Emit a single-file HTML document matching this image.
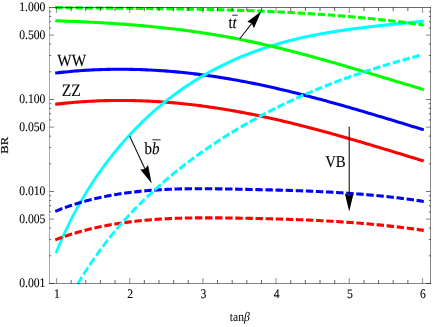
<!DOCTYPE html>
<html><head><meta charset="utf-8"><title>BR vs tan beta</title>
<style>html,body{margin:0;padding:0;background:#fff;}svg{display:block;will-change:transform;text-rendering:geometricPrecision;font-family:"Liberation Serif",serif;}</style></head><body>
<svg width="436" height="327" viewBox="0 0 436 327">
<rect width="436" height="327" fill="#fff"/>
<g transform="scale(1,1.19)">
<clipPath id="cp"><rect x="47.9" y="4.96" width="384.2" height="234.62"/></clipPath>
<g clip-path="url(#cp)" fill="none" stroke-linejoin="round" stroke-linecap="square">
<path d="M56.50,87.50 L58.80,87.28 L61.10,87.06 L63.41,86.85 L65.71,86.66 L68.01,86.47 L70.31,86.29 L72.61,86.12 L74.92,85.95 L77.22,85.80 L79.52,85.65 L81.82,85.51 L84.12,85.38 L86.42,85.26 L88.73,85.15 L91.03,85.04 L93.33,84.95 L95.63,84.86 L97.93,84.78 L100.24,84.70 L102.54,84.64 L104.84,84.58 L107.14,84.53 L109.44,84.49 L111.75,84.46 L114.05,84.43 L116.35,84.42 L118.65,84.41 L120.95,84.41 L123.25,84.41 L125.56,84.43 L127.86,84.45 L130.16,84.48 L132.46,84.51 L134.76,84.56 L137.07,84.61 L139.37,84.67 L141.67,84.74 L143.97,84.81 L146.27,84.89 L148.58,84.98 L150.88,85.08 L153.18,85.18 L155.48,85.30 L157.78,85.41 L160.08,85.54 L162.39,85.67 L164.69,85.81 L166.99,85.96 L169.29,86.11 L171.59,86.27 L173.90,86.44 L176.20,86.62 L178.50,86.80 L180.80,86.99 L183.10,87.19 L185.41,87.39 L187.71,87.60 L190.01,87.81 L192.31,88.04 L194.61,88.27 L196.92,88.50 L199.22,88.75 L201.52,89.00 L203.82,89.25 L206.12,89.52 L208.42,89.78 L210.73,90.06 L213.03,90.34 L215.33,90.63 L217.63,90.93 L219.93,91.23 L222.24,91.54 L224.54,91.85 L226.84,92.17 L229.14,92.50 L231.44,92.83 L233.75,93.17 L236.05,93.51 L238.35,93.86 L240.65,94.22 L242.95,94.58 L245.25,94.95 L247.56,95.33 L249.86,95.71 L252.16,96.09 L254.46,96.48 L256.76,96.88 L259.07,97.28 L261.37,97.69 L263.67,98.10 L265.97,98.52 L268.27,98.95 L270.58,99.37 L272.88,99.81 L275.18,100.25 L277.48,100.69 L279.78,101.14 L282.08,101.59 L284.39,102.05 L286.69,102.51 L288.99,102.98 L291.29,103.45 L293.59,103.92 L295.90,104.40 L298.20,104.89 L300.50,105.37 L302.80,105.87 L305.10,106.36 L307.41,106.86 L309.71,107.36 L312.01,107.87 L314.31,108.38 L316.61,108.89 L318.92,109.41 L321.22,109.93 L323.52,110.46 L325.82,110.98 L328.12,111.51 L330.42,112.05 L332.73,112.58 L335.03,113.12 L337.33,113.66 L339.63,114.21 L341.93,114.76 L344.24,115.31 L346.54,115.86 L348.84,116.41 L351.14,116.97 L353.44,117.53 L355.75,118.09 L358.05,118.66 L360.35,119.22 L362.65,119.79 L364.95,120.36 L367.25,120.94 L369.56,121.51 L371.86,122.08 L374.16,122.66 L376.46,123.24 L378.76,123.82 L381.07,124.40 L383.37,124.98 L385.67,125.57 L387.97,126.15 L390.27,126.74 L392.58,127.33 L394.88,127.91 L397.18,128.50 L399.48,129.09 L401.78,129.68 L404.08,130.27 L406.39,130.86 L408.69,131.46 L410.99,132.05 L413.29,132.64 L415.59,133.23 L417.90,133.83 L420.20,134.42 L422.50,135.01" stroke="#ff0000" stroke-width="2.6"/>
<path d="M56.50,61.28 L58.80,61.06 L61.10,60.84 L63.41,60.64 L65.71,60.44 L68.01,60.25 L70.31,60.07 L72.61,59.90 L74.92,59.73 L77.22,59.58 L79.52,59.43 L81.82,59.29 L84.12,59.16 L86.42,59.04 L88.73,58.93 L91.03,58.82 L93.33,58.73 L95.63,58.64 L97.93,58.56 L100.24,58.48 L102.54,58.42 L104.84,58.36 L107.14,58.31 L109.44,58.27 L111.75,58.24 L114.05,58.22 L116.35,58.20 L118.65,58.19 L120.95,58.19 L123.25,58.19 L125.56,58.21 L127.86,58.23 L130.16,58.26 L132.46,58.30 L134.76,58.34 L137.07,58.39 L139.37,58.45 L141.67,58.52 L143.97,58.59 L146.27,58.68 L148.58,58.77 L150.88,58.86 L153.18,58.97 L155.48,59.08 L157.78,59.20 L160.08,59.32 L162.39,59.45 L164.69,59.59 L166.99,59.74 L169.29,59.90 L171.59,60.06 L173.90,60.22 L176.20,60.40 L178.50,60.58 L180.80,60.77 L183.10,60.97 L185.41,61.17 L187.71,61.38 L190.01,61.60 L192.31,61.82 L194.61,62.05 L196.92,62.28 L199.22,62.53 L201.52,62.78 L203.82,63.03 L206.12,63.30 L208.42,63.57 L210.73,63.84 L213.03,64.12 L215.33,64.41 L217.63,64.71 L219.93,65.01 L222.24,65.32 L224.54,65.63 L226.84,65.95 L229.14,66.28 L231.44,66.61 L233.75,66.95 L236.05,67.29 L238.35,67.64 L240.65,68.00 L242.95,68.36 L245.25,68.73 L247.56,69.11 L249.86,69.49 L252.16,69.87 L254.46,70.26 L256.76,70.66 L259.07,71.06 L261.37,71.47 L263.67,71.89 L265.97,72.30 L268.27,72.73 L270.58,73.16 L272.88,73.59 L275.18,74.03 L277.48,74.47 L279.78,74.92 L282.08,75.37 L284.39,75.83 L286.69,76.29 L288.99,76.76 L291.29,77.23 L293.59,77.70 L295.90,78.18 L298.20,78.67 L300.50,79.16 L302.80,79.65 L305.10,80.14 L307.41,80.64 L309.71,81.14 L312.01,81.65 L314.31,82.16 L316.61,82.68 L318.92,83.19 L321.22,83.71 L323.52,84.24 L325.82,84.76 L328.12,85.29 L330.42,85.83 L332.73,86.36 L335.03,86.90 L337.33,87.45 L339.63,87.99 L341.93,88.54 L344.24,89.09 L346.54,89.64 L348.84,90.20 L351.14,90.75 L353.44,91.31 L355.75,91.88 L358.05,92.44 L360.35,93.01 L362.65,93.57 L364.95,94.14 L367.25,94.72 L369.56,95.29 L371.86,95.87 L374.16,96.44 L376.46,97.02 L378.76,97.60 L381.07,98.18 L383.37,98.77 L385.67,99.35 L387.97,99.93 L390.27,100.52 L392.58,101.11 L394.88,101.70 L397.18,102.28 L399.48,102.87 L401.78,103.46 L404.08,104.05 L406.39,104.65 L408.69,105.24 L410.99,105.83 L413.29,106.42 L415.59,107.02 L417.90,107.61 L420.20,108.20 L422.50,108.79" stroke="#0000ff" stroke-width="2.6"/>
<path d="M56.50,211.54 L58.80,206.82 L61.10,202.29 L63.41,197.93 L65.71,193.73 L68.01,189.68 L70.31,185.77 L72.61,182.00 L74.92,178.33 L77.22,174.78 L79.52,171.33 L81.82,167.96 L84.12,164.68 L86.42,161.47 L88.73,158.35 L91.03,155.30 L93.33,152.32 L95.63,149.42 L97.93,146.59 L100.24,143.82 L102.54,141.12 L104.84,138.48 L107.14,135.90 L109.44,133.38 L111.75,130.91 L114.05,128.50 L116.35,126.13 L118.65,123.82 L120.95,121.55 L123.25,119.32 L125.56,117.14 L127.86,115.00 L130.16,112.90 L132.46,110.84 L134.76,108.82 L137.07,106.83 L139.37,104.89 L141.67,102.98 L143.97,101.11 L146.27,99.28 L148.58,97.48 L150.88,95.72 L153.18,93.99 L155.48,92.29 L157.78,90.63 L160.08,89.00 L162.39,87.40 L164.69,85.83 L166.99,84.29 L169.29,82.79 L171.59,81.31 L173.90,79.86 L176.20,78.44 L178.50,77.04 L180.80,75.67 L183.10,74.33 L185.41,73.01 L187.71,71.72 L190.01,70.45 L192.31,69.21 L194.61,67.99 L196.92,66.79 L199.22,65.61 L201.52,64.45 L203.82,63.32 L206.12,62.21 L208.42,61.11 L210.73,60.04 L213.03,58.99 L215.33,57.97 L217.63,56.96 L219.93,55.97 L222.24,55.00 L224.54,54.05 L226.84,53.12 L229.14,52.21 L231.44,51.31 L233.75,50.44 L236.05,49.58 L238.35,48.74 L240.65,47.92 L242.95,47.12 L245.25,46.33 L247.56,45.57 L249.86,44.81 L252.16,44.08 L254.46,43.36 L256.76,42.65 L259.07,41.97 L261.37,41.29 L263.67,40.64 L265.97,39.99 L268.27,39.37 L270.58,38.75 L272.88,38.16 L275.18,37.57 L277.48,37.00 L279.78,36.44 L282.08,35.90 L284.39,35.37 L286.69,34.85 L288.99,34.34 L291.29,33.85 L293.59,33.37 L295.90,32.90 L298.20,32.44 L300.50,31.99 L302.80,31.55 L305.10,31.13 L307.41,30.71 L309.71,30.31 L312.01,29.91 L314.31,29.53 L316.61,29.15 L318.92,28.79 L321.22,28.43 L323.52,28.08 L325.82,27.74 L328.12,27.41 L330.42,27.09 L332.73,26.77 L335.03,26.46 L337.33,26.16 L339.63,25.87 L341.93,25.58 L344.24,25.30 L346.54,25.02 L348.84,24.75 L351.14,24.49 L353.44,24.23 L355.75,23.98 L358.05,23.73 L360.35,23.49 L362.65,23.25 L364.95,23.02 L367.25,22.79 L369.56,22.57 L371.86,22.34 L374.16,22.13 L376.46,21.91 L378.76,21.70 L381.07,21.49 L383.37,21.28 L385.67,21.07 L387.97,20.87 L390.27,20.66 L392.58,20.46 L394.88,20.26 L397.18,20.06 L399.48,19.86 L401.78,19.67 L404.08,19.47 L406.39,19.27 L408.69,19.07 L410.99,18.87 L413.29,18.67 L415.59,18.46 L417.90,18.26 L420.20,18.06 L422.50,17.85" stroke="#00ffff" stroke-width="2.6"/>
<path d="M56.50,17.50 L58.80,17.56 L61.10,17.62 L63.41,17.69 L65.71,17.76 L68.01,17.83 L70.31,17.90 L72.61,17.97 L74.92,18.05 L77.22,18.13 L79.52,18.21 L81.82,18.29 L84.12,18.38 L86.42,18.47 L88.73,18.56 L91.03,18.66 L93.33,18.75 L95.63,18.86 L97.93,18.96 L100.24,19.07 L102.54,19.18 L104.84,19.29 L107.14,19.40 L109.44,19.52 L111.75,19.64 L114.05,19.77 L116.35,19.90 L118.65,20.03 L120.95,20.17 L123.25,20.31 L125.56,20.45 L127.86,20.59 L130.16,20.74 L132.46,20.90 L134.76,21.05 L137.07,21.22 L139.37,21.38 L141.67,21.55 L143.97,21.72 L146.27,21.90 L148.58,22.08 L150.88,22.26 L153.18,22.45 L155.48,22.64 L157.78,22.84 L160.08,23.04 L162.39,23.25 L164.69,23.46 L166.99,23.67 L169.29,23.89 L171.59,24.12 L173.90,24.34 L176.20,24.58 L178.50,24.81 L180.80,25.06 L183.10,25.30 L185.41,25.55 L187.71,25.81 L190.01,26.07 L192.31,26.34 L194.61,26.61 L196.92,26.89 L199.22,27.17 L201.52,27.46 L203.82,27.75 L206.12,28.05 L208.42,28.35 L210.73,28.66 L213.03,28.97 L215.33,29.29 L217.63,29.61 L219.93,29.94 L222.24,30.28 L224.54,30.62 L226.84,30.97 L229.14,31.32 L231.44,31.68 L233.75,32.05 L236.05,32.42 L238.35,32.79 L240.65,33.18 L242.95,33.57 L245.25,33.96 L247.56,34.36 L249.86,34.77 L252.16,35.18 L254.46,35.60 L256.76,36.02 L259.07,36.45 L261.37,36.88 L263.67,37.32 L265.97,37.77 L268.27,38.22 L270.58,38.67 L272.88,39.13 L275.18,39.59 L277.48,40.06 L279.78,40.54 L282.08,41.01 L284.39,41.50 L286.69,41.98 L288.99,42.47 L291.29,42.97 L293.59,43.47 L295.90,43.97 L298.20,44.48 L300.50,44.99 L302.80,45.50 L305.10,46.02 L307.41,46.54 L309.71,47.06 L312.01,47.59 L314.31,48.12 L316.61,48.66 L318.92,49.19 L321.22,49.73 L323.52,50.28 L325.82,50.82 L328.12,51.37 L330.42,51.92 L332.73,52.47 L335.03,53.03 L337.33,53.59 L339.63,54.15 L341.93,54.71 L344.24,55.27 L346.54,55.84 L348.84,56.41 L351.14,56.98 L353.44,57.55 L355.75,58.12 L358.05,58.70 L360.35,59.27 L362.65,59.85 L364.95,60.43 L367.25,61.01 L369.56,61.59 L371.86,62.17 L374.16,62.75 L376.46,63.33 L378.76,63.92 L381.07,64.50 L383.37,65.08 L385.67,65.67 L387.97,66.25 L390.27,66.84 L392.58,67.43 L394.88,68.01 L397.18,68.60 L399.48,69.18 L401.78,69.77 L404.08,70.35 L406.39,70.93 L408.69,71.52 L410.99,72.10 L413.29,72.68 L415.59,73.26 L417.90,73.84 L420.20,74.42 L422.50,75.00" stroke="#00ff00" stroke-width="2.6"/>
<path d="M56.50,201.15 L58.80,200.42 L61.10,199.71 L63.41,199.02 L65.71,198.36 L68.01,197.71 L70.31,197.08 L72.61,196.47 L74.92,195.88 L77.22,195.31 L79.52,194.76 L81.82,194.22 L84.12,193.70 L86.42,193.20 L88.73,192.72 L91.03,192.25 L93.33,191.80 L95.63,191.36 L97.93,190.94 L100.24,190.53 L102.54,190.14 L104.84,189.76 L107.14,189.39 L109.44,189.04 L111.75,188.70 L114.05,188.38 L116.35,188.06 L118.65,187.76 L120.95,187.47 L123.25,187.19 L125.56,186.92 L127.86,186.66 L130.16,186.42 L132.46,186.18 L134.76,185.96 L137.07,185.74 L139.37,185.54 L141.67,185.34 L143.97,185.16 L146.27,184.98 L148.58,184.81 L150.88,184.66 L153.18,184.51 L155.48,184.37 L157.78,184.24 L160.08,184.11 L162.39,184.00 L164.69,183.89 L166.99,183.79 L169.29,183.70 L171.59,183.61 L173.90,183.53 L176.20,183.46 L178.50,183.40 L180.80,183.34 L183.10,183.28 L185.41,183.24 L187.71,183.19 L190.01,183.16 L192.31,183.13 L194.61,183.10 L196.92,183.08 L199.22,183.07 L201.52,183.06 L203.82,183.05 L206.12,183.05 L208.42,183.05 L210.73,183.05 L213.03,183.06 L215.33,183.07 L217.63,183.08 L219.93,183.10 L222.24,183.12 L224.54,183.14 L226.84,183.17 L229.14,183.19 L231.44,183.22 L233.75,183.25 L236.05,183.28 L238.35,183.31 L240.65,183.35 L242.95,183.38 L245.25,183.42 L247.56,183.45 L249.86,183.49 L252.16,183.53 L254.46,183.57 L256.76,183.61 L259.07,183.65 L261.37,183.69 L263.67,183.73 L265.97,183.78 L268.27,183.83 L270.58,183.87 L272.88,183.93 L275.18,183.98 L277.48,184.03 L279.78,184.09 L282.08,184.14 L284.39,184.20 L286.69,184.26 L288.99,184.33 L291.29,184.39 L293.59,184.46 L295.90,184.53 L298.20,184.60 L300.50,184.67 L302.80,184.75 L305.10,184.83 L307.41,184.91 L309.71,184.99 L312.01,185.08 L314.31,185.17 L316.61,185.26 L318.92,185.36 L321.22,185.45 L323.52,185.55 L325.82,185.66 L328.12,185.76 L330.42,185.87 L332.73,185.99 L335.03,186.10 L337.33,186.22 L339.63,186.34 L341.93,186.47 L344.24,186.60 L346.54,186.73 L348.84,186.87 L351.14,187.01 L353.44,187.15 L355.75,187.30 L358.05,187.45 L360.35,187.60 L362.65,187.76 L364.95,187.92 L367.25,188.09 L369.56,188.26 L371.86,188.44 L374.16,188.62 L376.46,188.80 L378.76,188.99 L381.07,189.18 L383.37,189.37 L385.67,189.58 L387.97,189.78 L390.27,189.99 L392.58,190.21 L394.88,190.43 L397.18,190.65 L399.48,190.88 L401.78,191.11 L404.08,191.35 L406.39,191.60 L408.69,191.85 L410.99,192.10 L413.29,192.36 L415.59,192.62 L417.90,192.89 L420.20,193.17 L422.50,193.45" stroke="#ff0000" stroke-width="2.6" stroke-dasharray="4.85 5.25" stroke-dashoffset="0"/>
<path d="M56.50,177.20 L58.80,176.42 L61.10,175.67 L63.41,174.94 L65.71,174.23 L68.01,173.54 L70.31,172.87 L72.61,172.22 L74.92,171.60 L77.22,170.99 L79.52,170.41 L81.82,169.84 L84.12,169.29 L86.42,168.76 L88.73,168.25 L91.03,167.76 L93.33,167.28 L95.63,166.82 L97.93,166.38 L100.24,165.95 L102.54,165.54 L104.84,165.15 L107.14,164.77 L109.44,164.40 L111.75,164.05 L114.05,163.71 L116.35,163.39 L118.65,163.08 L120.95,162.78 L123.25,162.49 L125.56,162.22 L127.86,161.96 L130.16,161.71 L132.46,161.47 L134.76,161.24 L137.07,161.03 L139.37,160.83 L141.67,160.63 L143.97,160.45 L146.27,160.28 L148.58,160.11 L150.88,159.96 L153.18,159.82 L155.48,159.68 L157.78,159.56 L160.08,159.44 L162.39,159.33 L164.69,159.23 L166.99,159.14 L169.29,159.06 L171.59,158.98 L173.90,158.91 L176.20,158.85 L178.50,158.80 L180.80,158.75 L183.10,158.71 L185.41,158.67 L187.71,158.64 L190.01,158.62 L192.31,158.60 L194.61,158.58 L196.92,158.57 L199.22,158.57 L201.52,158.57 L203.82,158.58 L206.12,158.58 L208.42,158.60 L210.73,158.61 L213.03,158.63 L215.33,158.65 L217.63,158.68 L219.93,158.70 L222.24,158.73 L224.54,158.77 L226.84,158.80 L229.14,158.83 L231.44,158.87 L233.75,158.91 L236.05,158.95 L238.35,158.98 L240.65,159.02 L242.95,159.06 L245.25,159.10 L247.56,159.14 L249.86,159.18 L252.16,159.22 L254.46,159.26 L256.76,159.31 L259.07,159.35 L261.37,159.39 L263.67,159.44 L265.97,159.48 L268.27,159.53 L270.58,159.58 L272.88,159.62 L275.18,159.67 L277.48,159.73 L279.78,159.78 L282.08,159.83 L284.39,159.89 L286.69,159.95 L288.99,160.01 L291.29,160.07 L293.59,160.13 L295.90,160.20 L298.20,160.26 L300.50,160.33 L302.80,160.40 L305.10,160.48 L307.41,160.55 L309.71,160.63 L312.01,160.71 L314.31,160.80 L316.61,160.88 L318.92,160.97 L321.22,161.07 L323.52,161.16 L325.82,161.26 L328.12,161.36 L330.42,161.46 L332.73,161.57 L335.03,161.68 L337.33,161.80 L339.63,161.91 L341.93,162.04 L344.24,162.16 L346.54,162.29 L348.84,162.42 L351.14,162.56 L353.44,162.70 L355.75,162.84 L358.05,162.99 L360.35,163.14 L362.65,163.30 L364.95,163.46 L367.25,163.63 L369.56,163.80 L371.86,163.97 L374.16,164.15 L376.46,164.33 L378.76,164.52 L381.07,164.72 L383.37,164.91 L385.67,165.12 L387.97,165.33 L390.27,165.54 L392.58,165.76 L394.88,165.98 L397.18,166.21 L399.48,166.45 L401.78,166.69 L404.08,166.94 L406.39,167.19 L408.69,167.45 L410.99,167.71 L413.29,167.98 L415.59,168.26 L417.90,168.54 L420.20,168.83 L422.50,169.12" stroke="#0000ff" stroke-width="2.6" stroke-dasharray="4.85 5.25" stroke-dashoffset="0"/>
<path d="M78.00,238.13 L80.17,235.14 L82.33,232.22 L84.50,229.34 L86.67,226.53 L88.83,223.76 L91.00,221.05 L93.17,218.39 L95.33,215.77 L97.50,213.21 L99.67,210.70 L101.83,208.23 L104.00,205.81 L106.17,203.43 L108.33,201.09 L110.50,198.80 L112.67,196.55 L114.83,194.34 L117.00,192.17 L119.17,190.04 L121.33,187.94 L123.50,185.88 L125.67,183.86 L127.83,181.86 L130.00,179.91 L132.17,177.98 L134.33,176.08 L136.50,174.22 L138.67,172.38 L140.83,170.57 L143.00,168.78 L145.17,167.02 L147.33,165.29 L149.50,163.58 L151.67,161.89 L153.83,160.22 L156.00,158.57 L158.17,156.94 L160.33,155.33 L162.50,153.73 L164.67,152.16 L166.83,150.60 L169.00,149.07 L171.17,147.55 L173.33,146.04 L175.50,144.56 L177.67,143.09 L179.83,141.64 L182.00,140.21 L184.17,138.79 L186.33,137.39 L188.50,136.00 L190.67,134.63 L192.83,133.28 L195.00,131.94 L197.17,130.61 L199.33,129.30 L201.50,128.01 L203.67,126.73 L205.83,125.46 L208.00,124.21 L210.17,122.97 L212.33,121.74 L214.50,120.53 L216.67,119.33 L218.83,118.15 L221.00,116.97 L223.17,115.81 L225.33,114.66 L227.50,113.52 L229.67,112.40 L231.83,111.28 L234.00,110.18 L236.17,109.09 L238.33,108.00 L240.50,106.93 L242.67,105.87 L244.83,104.82 L247.00,103.78 L249.17,102.75 L251.33,101.73 L253.50,100.72 L255.67,99.71 L257.83,98.72 L260.00,97.74 L262.17,96.77 L264.33,95.81 L266.50,94.85 L268.67,93.91 L270.83,92.97 L273.00,92.05 L275.17,91.13 L277.33,90.22 L279.50,89.32 L281.67,88.43 L283.83,87.55 L286.00,86.68 L288.17,85.82 L290.33,84.96 L292.50,84.12 L294.67,83.28 L296.83,82.45 L299.00,81.63 L301.17,80.81 L303.33,80.01 L305.50,79.21 L307.67,78.42 L309.83,77.64 L312.00,76.87 L314.17,76.10 L316.33,75.34 L318.50,74.59 L320.67,73.85 L322.83,73.11 L325.00,72.39 L327.17,71.67 L329.33,70.95 L331.50,70.25 L333.67,69.55 L335.83,68.85 L338.00,68.17 L340.17,67.49 L342.33,66.82 L344.50,66.15 L346.67,65.49 L348.83,64.84 L351.00,64.19 L353.17,63.55 L355.33,62.92 L357.50,62.29 L359.67,61.67 L361.83,61.06 L364.00,60.45 L366.17,59.85 L368.33,59.25 L370.50,58.66 L372.67,58.07 L374.83,57.49 L377.00,56.92 L379.17,56.35 L381.33,55.78 L383.50,55.23 L385.67,54.67 L387.83,54.12 L390.00,53.58 L392.17,53.04 L394.33,52.51 L396.50,51.98 L398.67,51.46 L400.83,50.94 L403.00,50.42 L405.17,49.91 L407.33,49.41 L409.50,48.91 L411.67,48.41 L413.83,47.92 L416.00,47.43 L418.17,46.95 L420.33,46.47 L422.50,45.99" stroke="#00ffff" stroke-width="2.6" stroke-dasharray="4.85 5.25" stroke-dashoffset="-0.5"/>
<path d="M56.50,6.38 L58.80,6.41 L61.10,6.43 L63.41,6.45 L65.71,6.47 L68.01,6.50 L70.31,6.52 L72.61,6.54 L74.92,6.56 L77.22,6.58 L79.52,6.60 L81.82,6.62 L84.12,6.64 L86.42,6.66 L88.73,6.68 L91.03,6.70 L93.33,6.71 L95.63,6.73 L97.93,6.75 L100.24,6.77 L102.54,6.79 L104.84,6.81 L107.14,6.82 L109.44,6.84 L111.75,6.86 L114.05,6.88 L116.35,6.90 L118.65,6.91 L120.95,6.93 L123.25,6.95 L125.56,6.97 L127.86,6.99 L130.16,7.01 L132.46,7.03 L134.76,7.05 L137.07,7.07 L139.37,7.09 L141.67,7.11 L143.97,7.13 L146.27,7.15 L148.58,7.17 L150.88,7.20 L153.18,7.22 L155.48,7.24 L157.78,7.27 L160.08,7.29 L162.39,7.32 L164.69,7.34 L166.99,7.37 L169.29,7.40 L171.59,7.43 L173.90,7.45 L176.20,7.48 L178.50,7.51 L180.80,7.55 L183.10,7.58 L185.41,7.61 L187.71,7.65 L190.01,7.68 L192.31,7.72 L194.61,7.75 L196.92,7.79 L199.22,7.83 L201.52,7.87 L203.82,7.91 L206.12,7.95 L208.42,8.00 L210.73,8.04 L213.03,8.09 L215.33,8.14 L217.63,8.18 L219.93,8.23 L222.24,8.29 L224.54,8.34 L226.84,8.39 L229.14,8.45 L231.44,8.50 L233.75,8.56 L236.05,8.62 L238.35,8.68 L240.65,8.74 L242.95,8.81 L245.25,8.87 L247.56,8.94 L249.86,9.01 L252.16,9.08 L254.46,9.15 L256.76,9.23 L259.07,9.30 L261.37,9.38 L263.67,9.46 L265.97,9.54 L268.27,9.63 L270.58,9.71 L272.88,9.80 L275.18,9.89 L277.48,9.98 L279.78,10.07 L282.08,10.17 L284.39,10.26 L286.69,10.36 L288.99,10.46 L291.29,10.57 L293.59,10.67 L295.90,10.78 L298.20,10.89 L300.50,11.00 L302.80,11.11 L305.10,11.23 L307.41,11.35 L309.71,11.47 L312.01,11.59 L314.31,11.72 L316.61,11.85 L318.92,11.98 L321.22,12.11 L323.52,12.25 L325.82,12.39 L328.12,12.53 L330.42,12.67 L332.73,12.82 L335.03,12.97 L337.33,13.12 L339.63,13.27 L341.93,13.43 L344.24,13.59 L346.54,13.75 L348.84,13.92 L351.14,14.08 L353.44,14.25 L355.75,14.43 L358.05,14.60 L360.35,14.78 L362.65,14.97 L364.95,15.15 L367.25,15.34 L369.56,15.53 L371.86,15.73 L374.16,15.92 L376.46,16.13 L378.76,16.33 L381.07,16.54 L383.37,16.75 L385.67,16.96 L387.97,17.18 L390.27,17.40 L392.58,17.62 L394.88,17.85 L397.18,18.08 L399.48,18.31 L401.78,18.55 L404.08,18.79 L406.39,19.03 L408.69,19.28 L410.99,19.53 L413.29,19.79 L415.59,20.04 L417.90,20.31 L420.20,20.57 L422.50,20.84" stroke="#00ff00" stroke-width="2.6" stroke-dasharray="4.85 5.25" stroke-dashoffset="0"/>
</g>
</g>
<g stroke="#000" stroke-width="1" fill="none">
<path d="M49.5,7.0V284.0" stroke-opacity="0.34"/>
<path d="M430.5,7.0V284.0" stroke-opacity="0.48"/>
<path d="M49.0,7.5H431.0" stroke-opacity="0.58"/>
<path d="M49.0,283.5H431.0" stroke-opacity="0.48"/>
<path d="M56.50,283.5v-5.60M56.50,7.5v5.60" stroke-opacity="0.38" stroke-width="1.2"/>
<path d="M71.14,283.5v-3.60M71.14,7.5v3.60" stroke-opacity="0.62" stroke-width="1"/>
<path d="M85.78,283.5v-3.60M85.78,7.5v3.60" stroke-opacity="0.62" stroke-width="1"/>
<path d="M100.42,283.5v-3.60M100.42,7.5v3.60" stroke-opacity="0.62" stroke-width="1"/>
<path d="M115.06,283.5v-3.60M115.06,7.5v3.60" stroke-opacity="0.62" stroke-width="1"/>
<path d="M129.70,283.5v-5.60M129.70,7.5v5.60" stroke-opacity="0.38" stroke-width="1.2"/>
<path d="M144.34,283.5v-3.60M144.34,7.5v3.60" stroke-opacity="0.62" stroke-width="1"/>
<path d="M158.98,283.5v-3.60M158.98,7.5v3.60" stroke-opacity="0.62" stroke-width="1"/>
<path d="M173.62,283.5v-3.60M173.62,7.5v3.60" stroke-opacity="0.62" stroke-width="1"/>
<path d="M188.26,283.5v-3.60M188.26,7.5v3.60" stroke-opacity="0.62" stroke-width="1"/>
<path d="M202.90,283.5v-5.60M202.90,7.5v5.60" stroke-opacity="0.38" stroke-width="1.2"/>
<path d="M217.54,283.5v-3.60M217.54,7.5v3.60" stroke-opacity="0.62" stroke-width="1"/>
<path d="M232.18,283.5v-3.60M232.18,7.5v3.60" stroke-opacity="0.62" stroke-width="1"/>
<path d="M246.82,283.5v-3.60M246.82,7.5v3.60" stroke-opacity="0.62" stroke-width="1"/>
<path d="M261.46,283.5v-3.60M261.46,7.5v3.60" stroke-opacity="0.62" stroke-width="1"/>
<path d="M276.10,283.5v-5.60M276.10,7.5v5.60" stroke-opacity="0.38" stroke-width="1.2"/>
<path d="M290.74,283.5v-3.60M290.74,7.5v3.60" stroke-opacity="0.62" stroke-width="1"/>
<path d="M305.38,283.5v-3.60M305.38,7.5v3.60" stroke-opacity="0.62" stroke-width="1"/>
<path d="M320.02,283.5v-3.60M320.02,7.5v3.60" stroke-opacity="0.62" stroke-width="1"/>
<path d="M334.66,283.5v-3.60M334.66,7.5v3.60" stroke-opacity="0.62" stroke-width="1"/>
<path d="M349.30,283.5v-5.60M349.30,7.5v5.60" stroke-opacity="0.38" stroke-width="1.2"/>
<path d="M363.94,283.5v-3.60M363.94,7.5v3.60" stroke-opacity="0.62" stroke-width="1"/>
<path d="M378.58,283.5v-3.60M378.58,7.5v3.60" stroke-opacity="0.62" stroke-width="1"/>
<path d="M393.22,283.5v-3.60M393.22,7.5v3.60" stroke-opacity="0.62" stroke-width="1"/>
<path d="M407.86,283.5v-3.60M407.86,7.5v3.60" stroke-opacity="0.62" stroke-width="1"/>
<path d="M422.50,283.5v-5.60M422.50,7.5v5.60" stroke-opacity="0.38" stroke-width="1.2"/>
<path d="M49.5,99.50h4.5M430.5,99.50h-4.5" stroke-opacity="0.55" stroke-width="1.2"/>
<path d="M49.5,71.81h1.7M430.5,71.81h-1.7" stroke-opacity="0.62" stroke-width="1"/>
<path d="M49.5,55.60h1.7M430.5,55.60h-1.7" stroke-opacity="0.62" stroke-width="1"/>
<path d="M49.5,44.11h1.7M430.5,44.11h-1.7" stroke-opacity="0.62" stroke-width="1"/>
<path d="M49.5,35.19h4.5M430.5,35.19h-4.5" stroke-opacity="0.38" stroke-width="1.2"/>
<path d="M49.5,27.91h1.7M430.5,27.91h-1.7" stroke-opacity="0.62" stroke-width="1"/>
<path d="M49.5,21.75h1.7M430.5,21.75h-1.7" stroke-opacity="0.62" stroke-width="1"/>
<path d="M49.5,16.42h1.7M430.5,16.42h-1.7" stroke-opacity="0.62" stroke-width="1"/>
<path d="M49.5,11.71h1.7M430.5,11.71h-1.7" stroke-opacity="0.62" stroke-width="1"/>
<path d="M49.5,191.50h4.5M430.5,191.50h-4.5" stroke-opacity="0.55" stroke-width="1.2"/>
<path d="M49.5,163.81h1.7M430.5,163.81h-1.7" stroke-opacity="0.62" stroke-width="1"/>
<path d="M49.5,147.60h1.7M430.5,147.60h-1.7" stroke-opacity="0.62" stroke-width="1"/>
<path d="M49.5,136.11h1.7M430.5,136.11h-1.7" stroke-opacity="0.62" stroke-width="1"/>
<path d="M49.5,127.19h4.5M430.5,127.19h-4.5" stroke-opacity="0.38" stroke-width="1.2"/>
<path d="M49.5,119.91h1.7M430.5,119.91h-1.7" stroke-opacity="0.62" stroke-width="1"/>
<path d="M49.5,113.75h1.7M430.5,113.75h-1.7" stroke-opacity="0.62" stroke-width="1"/>
<path d="M49.5,108.42h1.7M430.5,108.42h-1.7" stroke-opacity="0.62" stroke-width="1"/>
<path d="M49.5,103.71h1.7M430.5,103.71h-1.7" stroke-opacity="0.62" stroke-width="1"/>
<path d="M49.5,283.50h4.5M430.5,283.50h-4.5" stroke-opacity="0.55" stroke-width="1.2"/>
<path d="M49.5,255.81h1.7M430.5,255.81h-1.7" stroke-opacity="0.62" stroke-width="1"/>
<path d="M49.5,239.60h1.7M430.5,239.60h-1.7" stroke-opacity="0.62" stroke-width="1"/>
<path d="M49.5,228.11h1.7M430.5,228.11h-1.7" stroke-opacity="0.62" stroke-width="1"/>
<path d="M49.5,219.19h4.5M430.5,219.19h-4.5" stroke-opacity="0.38" stroke-width="1.2"/>
<path d="M49.5,211.91h1.7M430.5,211.91h-1.7" stroke-opacity="0.62" stroke-width="1"/>
<path d="M49.5,205.75h1.7M430.5,205.75h-1.7" stroke-opacity="0.62" stroke-width="1"/>
<path d="M49.5,200.42h1.7M430.5,200.42h-1.7" stroke-opacity="0.62" stroke-width="1"/>
<path d="M49.5,195.71h1.7M430.5,195.71h-1.7" stroke-opacity="0.62" stroke-width="1"/>
</g>
<g transform="scale(1,1.12)">
<g font-size="11.65" fill="#000" stroke="#000" stroke-width="0.08">
<text x="57.00" y="265.98" text-anchor="middle">1</text>
<text x="130.20" y="265.98" text-anchor="middle">2</text>
<text x="203.40" y="265.98" text-anchor="middle">3</text>
<text x="276.60" y="265.98" text-anchor="middle">4</text>
<text x="349.80" y="265.98" text-anchor="middle">5</text>
<text x="423.00" y="265.98" text-anchor="middle">6</text>
<text x="45.4" y="10.27" text-anchor="end">1.000</text>
<text x="45.4" y="35.00" text-anchor="end">0.500</text>
<text x="45.4" y="92.41" text-anchor="end">0.100</text>
<text x="45.4" y="117.14" text-anchor="end">0.050</text>
<text x="45.4" y="174.55" text-anchor="end">0.010</text>
<text x="45.4" y="199.28" text-anchor="end">0.005</text>
<text x="45.4" y="256.70" text-anchor="end">0.001</text>
</g>
<text x="229.8" y="286.25" font-size="11.6">tan<tspan font-style="italic">β</tspan></text>
<text transform="translate(8.45,137.19) rotate(-90) scale(1.06,1)" font-size="10.6" stroke="#000" stroke-width="0.2">BR</text>
<g font-size="15.3" fill="#000" stroke="#000" stroke-width="0.1">
<text x="57.3" y="58.93">WW</text>
<text x="61.7" y="85.45" font-size="15.6">ZZ</text>
<text x="325.2" y="149.38" font-size="14.8">VB</text>
<text x="144.6" y="137.50" font-size="15">b<tspan font-style="italic">b</tspan></text>
<text x="228.4" y="25.27" font-size="15">t<tspan font-style="italic">t</tspan></text>
</g>
<path d="M152.3,124.82H160.6M232.3,13.57H237.6" stroke="#000" stroke-width="0.8" fill="none"/>
<path d="M129.60,121.52L145.02,150.99" stroke="#000" stroke-width="1.0" fill="none"/><path d="M151.70,163.75L140.33,151.41L145.02,150.99L148.04,147.38Z" fill="#000"/>
<path d="M239.60,34.82L251.80,20.91" stroke="#000" stroke-width="1.0" fill="none"/><path d="M261.30,10.09L253.89,25.14L251.80,20.91L247.35,19.40Z" fill="#000"/>
<path d="M349.20,113.12L349.20,174.53" stroke="#000" stroke-width="1.0" fill="none"/><path d="M349.20,188.93L344.85,172.73L349.20,174.53L353.55,172.73Z" fill="#000"/>
</g></svg></body></html>
